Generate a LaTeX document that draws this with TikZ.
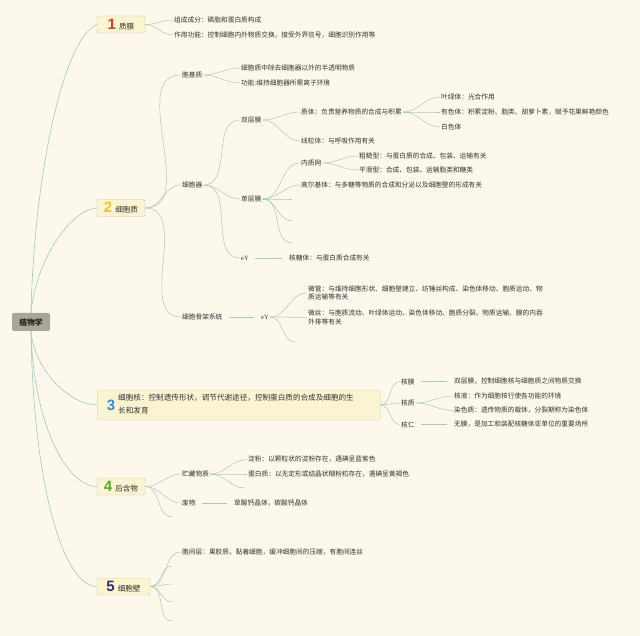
\documentclass[tikz,border=0pt]{standalone}
\usepackage{fontspec}
\setmainfont{Noto Sans CJK SC}
\newfontfamily\numfont{Liberation Sans}
\newfontfamily\latinfont{Liberation Serif}
\usepackage{xcolor}
\definecolor{bgcream}{HTML}{FDF8EC}
\definecolor{rootfill}{HTML}{A8A797}
\definecolor{topicfill}{HTML}{FBF4D1}
\definecolor{topicedge}{HTML}{C6C8AE}
\definecolor{inkgray}{HTML}{333333}
\definecolor{inkdark}{HTML}{222222}
\definecolor{trunkline}{HTML}{9DCBC0}
\definecolor{linkgreen}{HTML}{A9CBB3}
\definecolor{numred}{HTML}{E0382C}
\definecolor{numgold}{HTML}{F2C12E}
\definecolor{numblue}{HTML}{2C8FD6}
\definecolor{numgreen}{HTML}{5BAA2A}
\definecolor{numnavy}{HTML}{2A2E6E}
\usetikzlibrary{positioning}
\newcommand\leaffont{\fontsize{6.7}{8.8}\selectfont}
\newcommand\topicfont{\fontsize{7.6}{10}\selectfont}
\newcommand\rootfont{\fontsize{7.8}{9}\selectfont\bfseries}
\newcommand\topicnum[2]{{\color{#1}\numfont\bfseries\fontsize{15}{15}\selectfont #2}\hspace{3pt}}

\begin{document}
\begin{tikzpicture}[
  x=1pt,y=-1pt,
  leaf/.style={anchor=west,inner sep=1pt,font=\leaffont,text=inkgray,align=left},
  topic/.style={draw=topicedge,fill=topicfill,rounded corners=1.5pt,
    minimum height=17pt,inner sep=2pt,font=\topicfont,text=inkgray},
  rootbox/.style={fill=rootfill,rounded corners=2pt,minimum width=38pt,
    minimum height=18pt,font=\rootfont,text=inkdark},
  trunk/.style={draw=trunkline,line width=0.6pt},
  link/.style={draw=linkgreen,line width=0.5pt},
  straight/.style={link,shorten <=5pt,shorten >=6pt},
  curvy/.style={out=0,in=180}
]
\fill[bgcream] (0,0) rectangle (640,636);
\useasboundingbox (0,0) rectangle (640,636);

% root and main topics
\node[rootbox] (root) at (31,322) {植物学};
\node[topic,minimum width=48pt] (zhimo) at (121,24.5) {\topicnum{numred}{1}质膜};
\node[topic,minimum width=48pt] (zhizhi) at (121,208) {\topicnum{numgold}{2}细胞质};
\node[topic,anchor=west,minimum width=283pt,minimum height=30pt] (hexin) at (97,405) {};
\node[inner sep=0pt,font=\numfont\bfseries\fontsize{15}{15}\selectfont,text=numblue]
  (hexnum) at (111,405) {3};
\node[anchor=west,inner sep=0pt,font=\fontsize{7.6}{13.5}\selectfont,text=inkgray,align=left]
  (hextxt) at (118,404) {细胞核：控制遗传形状，调节代谢途径，控制蛋白质的合成及细胞的生\\长和发育};
\node[topic,minimum width=48pt] (houhan) at (121,486.5) {\topicnum{numgreen}{4}后含物};
\node[topic,minimum width=53pt] (bi) at (123.5,586.5) {\topicnum{numnavy}{5}细胞壁};

\draw[trunk] (root.north) .. controls (34,180) and (62,40) .. (zhimo.west);
\draw[trunk] (root.north) .. controls (36,260) and (70,210) .. (zhizhi.west);
\draw[trunk] (root.south) .. controls (34,370) and (70,405) .. (hexin.west);
\draw[trunk] (root.south) .. controls (33,420) and (65,486) .. (houhan.west);
\draw[trunk] (root.south) .. controls (33,480) and (62,586) .. (bi.west);

% 1 质膜
\node[leaf] (cf) at (173,20) {组成成分：磷脂和蛋白质构成};
\node[leaf] (gn) at (173,35) {作用功能：控制细胞内外物质交换，接受外界信号，细胞识别作用等};
\draw[link] (zhimo.east) to[curvy] (cf.west);
\draw[link] (zhimo.east) to[curvy] (gn.west);

% 2 细胞质
\node[leaf] (jizhi) at (181,75) {胞基质};
\node[leaf] (qiguan) at (181,185) {细胞器};
\node[leaf] (gujia) at (181,317) {细胞骨架系统};
\draw[link] (zhizhi.east) to[curvy] (jizhi.west);
\draw[link] (zhizhi.east) to[curvy] (qiguan.west);
\draw[link] (zhizhi.east) to[curvy] (gujia.west);

\node[leaf] (jz1) at (240,68) {细胞质中除去细胞器以外的半透明物质};
\node[leaf] (jz2) at (240,83) {功能:维持细胞器所需离子环境};
\draw[link] (jizhi.east) to[curvy] (jz1.west);
\draw[link] (jizhi.east) to[curvy] (jz2.west);

\node[leaf] (shuang) at (240,120) {双层膜};
\node[leaf] (dan) at (240,199) {单层膜};
\node[leaf,font=\latinfont\fontsize{6.5}{8}\selectfont] (ey1) at (240,258) {eY};
\draw[link] (qiguan.east) to[curvy] (shuang.west);
\draw[link] (qiguan.east) to[curvy] (dan.west);
\draw[link] (qiguan.east) to[curvy] (ey1.west);

\node[leaf] (zhiti) at (300,112) {质体：负责营养物质的合成与积累};
\node[leaf] (xlt) at (300,141) {线粒体：与呼吸作用有关};
\draw[link] (shuang.east) to[curvy] (zhiti.west);
\draw[link] (shuang.east) to[curvy] (xlt.west);

\node[leaf] (ylt) at (440,97) {叶绿体：光合作用};
\node[leaf] (yst) at (440,112) {有色体：积累淀粉、脂类、胡萝卜素，赋予花果鲜艳颜色};
\node[leaf] (bst) at (440,127) {白色体};
\draw[link] (zhiti.east) to[curvy] (ylt.west);
\draw[link] (zhiti.east) to[curvy] (yst.west);
\draw[link] (zhiti.east) to[curvy] (bst.west);

\node[leaf] (nzw) at (300,163) {内质网};
\node[leaf] (gej) at (300,185) {高尔基体：与多糖等物质的合成和分泌以及细胞壁的形成有关};
\coordinate (dan3) at (292,199);
\coordinate (dan4) at (292,221);
\coordinate (dan5) at (292,243);
\draw[link] (dan.east) to[curvy] (nzw.west);
\draw[link] (dan.east) to[curvy] (gej.west);
\draw[link] (dan.east) to[curvy] (dan3);
\draw[link] (dan.east) to[curvy] (dan4);
\draw[link] (dan.east) to[curvy] (dan5);

\node[leaf] (cc) at (358,156) {粗糙型：与蛋白质的合成、包装、运输有关};
\node[leaf] (ph) at (358,170) {平滑型：合成、包装、运输脂类和糖类};
\draw[link] (nzw.east) to[curvy] (cc.west);
\draw[link] (nzw.east) to[curvy] (ph.west);

\node[leaf] (htt) at (288,258) {核糖体：与蛋白质合成有关};
\draw[straight] (ey1.east) -- (htt.west);

\node[leaf,font=\latinfont\fontsize{6.5}{8}\selectfont] (ey2) at (260,317) {eY};
\draw[straight] (gujia.east) -- (ey2.west);
\node[leaf] (wg) at (307,293) {微管：与维持细胞形状、细胞壁建立、纺锤丝构成、染色体移动、胞质运动、物\\质运输等有关};
\node[leaf] (ws) at (307,317.5) {微丝：与胞质流动、叶绿体运动、染色体移动、胞质分裂、物质运输、膜的内吞\\外排等有关};
\coordinate (ey2c) at (295,342);
\draw[link] (ey2.east) to[curvy] (wg.west);
\draw[link] (ey2.east) to[curvy] (ws.west);
\draw[link] (ey2.east) to[curvy] (ey2c);

% 3 细胞核
\node[leaf] (hm) at (400,381.5) {核膜};
\node[leaf] (hz) at (400,403) {核质};
\node[leaf] (hr) at (400,424.5) {核仁};
\draw[link] (hexin.east) to[curvy] (hm.west);
\draw[link] (hexin.east) to[curvy] (hz.west);
\draw[link] (hexin.east) to[curvy] (hr.west);
\node[leaf] (hm1) at (453,381.5) {双层膜，控制细胞核与细胞质之间物质交换};
\node[leaf] (hy) at (453,396) {核液：作为细胞核行使各功能的环境};
\node[leaf] (rsz) at (453,410.5) {染色质：遗传物质的载体，分裂期称为染色体};
\node[leaf] (hr1) at (453,424.5) {无膜，是加工和装配核糖体亚单位的重要场所};
\draw[straight] (hm.east) -- (hm1.west);
\draw[link] (hz.east) to[curvy] (hy.west);
\draw[link] (hz.east) to[curvy] (rsz.west);
\draw[straight] (hr.east) -- (hr1.west);

% 4 后含物
\node[leaf] (zc) at (181,474) {贮藏物质};
\node[leaf] (fw) at (181,503) {废物};
\coordinate (hh3) at (172,517);
\draw[link] (houhan.east) to[curvy] (zc.west);
\draw[link] (houhan.east) to[curvy] (fw.west);
\draw[link] (houhan.east) to[curvy] (hh3);
\node[leaf] (df) at (247,459.5) {淀粉：以颗粒状的淀粉存在，遇碘呈蓝紫色};
\node[leaf] (dbz) at (247,474) {蛋白质：以无定形或结晶状糊粉粒存在，遇碘呈黄褐色};
\coordinate (zc3) at (245,488);
\draw[link] (zc.east) to[curvy] (df.west);
\draw[link] (zc.east) to[curvy] (dbz.west);
\draw[link] (zc.east) to[curvy] (zc3);
\node[leaf] (csg) at (233,503) {草酸钙晶体，碳酸钙晶体};
\draw[straight] (fw.east) -- (csg.west);

% 5 细胞壁
\node[leaf] (bjc) at (181,552) {胞间层：果胶质。黏着细胞，缓冲细胞间的压缩，有胞间连丝};
\coordinate (bi2) at (172,566);
\coordinate (bi3) at (173,584);
\coordinate (bi4) at (172,602);
\coordinate (bi5) at (172,621);
\draw[link] (bi.east) to[curvy] (bjc.west);
\draw[link] (bi.east) to[curvy] (bi2);
\draw[link] (bi.east) to[curvy] (bi3);
\draw[link] (bi.east) to[curvy] (bi4);
\draw[link] (bi.east) to[curvy] (bi5);
\end{tikzpicture}
\end{document}
